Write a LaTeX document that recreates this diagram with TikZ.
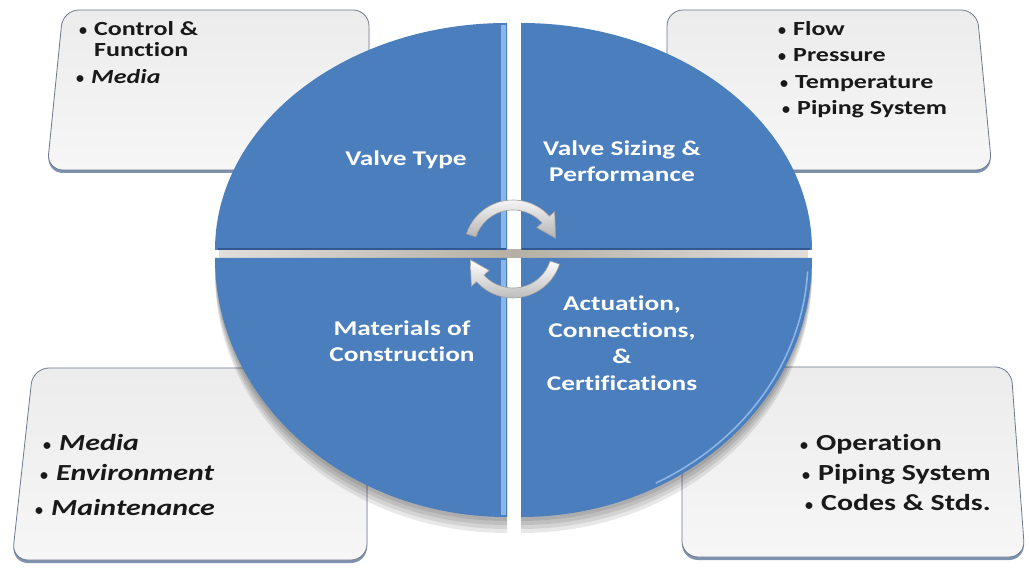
\documentclass[tikz,border=0pt]{standalone}
\usepackage{fontspec}
\newfontfamily\carl[FakeStretch=1.3, Ligatures=NoCommon]{Carlito}
\newfontfamily\carlplain{Carlito}
\newcommand{\bul}{{\carlplain\bfseries\fontsize{16}{16}\selectfont\textbullet}\hspace{0.35em}}
\usetikzlibrary{calc}
\definecolor{discblue}{RGB}{74,126,188}
\definecolor{disclight}{RGB}{140,182,232}
\definecolor{discdark}{RGB}{50,88,145}
\definecolor{gaptan}{RGB}{182,175,164}
\definecolor{boxfill}{RGB}{236,236,236}
\definecolor{boxfilllow}{RGB}{246,246,246}
\definecolor{boxedge}{RGB}{110,122,140}
\definecolor{boxshadow}{RGB}{85,110,150}
\begin{document}
\begin{tikzpicture}[x=1pt,y=1pt,
  panel/.style={top color=boxfill, bottom color=boxfilllow, draw=boxedge, line width=0.8pt, rounded corners=16pt},
  panelshadow/.style={fill=boxshadow, opacity=0.75, rounded corners=16pt},
  quad/.style={fill=discblue},
  quadshadow/.style={fill=black, opacity=0.09},
  disctext/.style={text=white, inner sep=0pt, font=\carl\bfseries\fontsize{21}{26.5}\selectfont, align=center},
  toptext/.style={anchor=base west, inner sep=0pt, text=black!90, font=\carl\bfseries\fontsize{20}{24}\selectfont},
  bottext/.style={anchor=base west, inner sep=0pt, text=black!90, font=\carl\bfseries\fontsize{23}{27}\selectfont},
  ringarrow/.style={top color=white, bottom color=gray!60, draw=gray!75, line width=0.6pt}
]
\useasboundingbox (0,0) rectangle (1029,-569);
\fill[white] (0,0) rectangle (1029,-569);

% ---- corner panels ----
\fill[panelshadow] (63,-13) -- (369,-13) -- (369,-173) -- (47,-173) -- cycle;
\fill[panelshadow] (667,-13) -- (977,-13) -- (992,-173) -- (667,-173) -- cycle;
\fill[panelshadow] (33,-371) -- (367,-371) -- (367,-563) -- (12,-563) -- cycle;
\fill[panelshadow] (682,-370) -- (1011,-370) -- (1025,-560) -- (682,-560) -- cycle;
\path[panel] (63,-10) -- (369,-10) -- (369,-170) -- (47,-170) -- cycle;
\path[panel] (667,-10) -- (977,-10) -- (992,-170) -- (667,-170) -- cycle;
\path[panel] (33,-368) -- (367,-368) -- (367,-560) -- (12,-560) -- cycle;
\path[panel] (682,-367) -- (1011,-367) -- (1025,-557) -- (682,-557) -- cycle;

% ---- disc shadow ----
\foreach \s in {4,8,12,16}{
  \fill[quadshadow] (507,-258-\s) -- (215,-258-\s) arc[start angle=180,end angle=270,x radius=292,y radius=259] -- cycle;
  \fill[quadshadow] (521,-258-\s) -- (812,-258-\s) arc[start angle=0,end angle=-90,x radius=291,y radius=259] -- cycle;
}
% horizontal gap
\shade[left color=gaptan!40, right color=gaptan!40, middle color=gaptan] (219,-250) rectangle (808,-258);

% ---- quadrants ----
\fill[quad] (507,-250) -- (215,-250) arc[start angle=180,end angle=90,x radius=292,y radius=227] -- cycle;
\fill[quad] (521,-250) -- (521,-23) arc[start angle=90,end angle=0,x radius=291,y radius=227] -- cycle;
\fill[quad] (507,-258) -- (215,-258) arc[start angle=180,end angle=270,x radius=292,y radius=259] -- cycle;
\fill[quad] (521,-258) -- (812,-258) arc[start angle=0,end angle=-90,x radius=291,y radius=259] -- cycle;

% highlights and bevels
\fill[disclight] (501,-25) rectangle (506,-248);
\fill[disclight] (501,-260) rectangle (506,-515);
\draw[discdark, line width=2pt] (218,-249) -- (506,-249);
\draw[discdark, line width=2pt] (522,-249) -- (810,-249);
\draw[disclight, line width=1.6pt] ($(521,-258)+(-3:287 and 255)$) arc[start angle=-3,end angle=-62,x radius=287,y radius=255];

% ---- disc labels ----
\node[disctext] (vt) at (406,-160) {Valve Type};
\node[disctext] (vs) at (622,-161) {Valve Sizing \&\\Performance};
\node[disctext] (mc) at (402,-341) {Materials of\\Construction};
\node[disctext] (ac) at (622,-343) {Actuation,\\Connections,\\\&\\Certifications};

% ---- centre cycle arrows ----
\begin{scope}[shift={(513,-249)}]
\foreach \r in {0,180}{
  \shade[ringarrow] (162+\r:49) arc[start angle=162+\r, end angle=42+\r, radius=49]
    -- (42+\r:56) -- (14+\r:44) -- (42+\r:32) -- (42+\r:39)
    arc[start angle=42+\r, end angle=162+\r, radius=39] -- cycle;
}
\end{scope}

% ---- panel texts ----
\node[toptext] (tl1) at (79,-36) {\bul Control \&};
\node[toptext] (tl2) at (94,-57) {Function};
\node[toptext] (tl3) at (76,-84) {\bul\itshape Media};

\node[toptext] (tr1) at (778,-36) {\bul Flow};
\node[toptext] (tr2) at (778,-62) {\bul Pressure};
\node[toptext] (tr3) at (780,-89) {\bul Temperature};
\node[toptext] (tr4) at (782,-115) {\bul Piping System};

\node[bottext] (bl1) at (43,-450) {\bul\itshape Media};
\node[bottext] (bl2) at (40,-481) {\bul\itshape Environment};
\node[bottext] (bl3) at (35,-515) {\bul\itshape Maintenance};

\node[bottext] (br1) at (800,-450) {\bul Operation};
\node[bottext] (br2) at (802,-481) {\bul Piping System};
\node[bottext] (br3) at (805,-511) {\bul Codes \& Stds.};
\end{tikzpicture}
\end{document}
